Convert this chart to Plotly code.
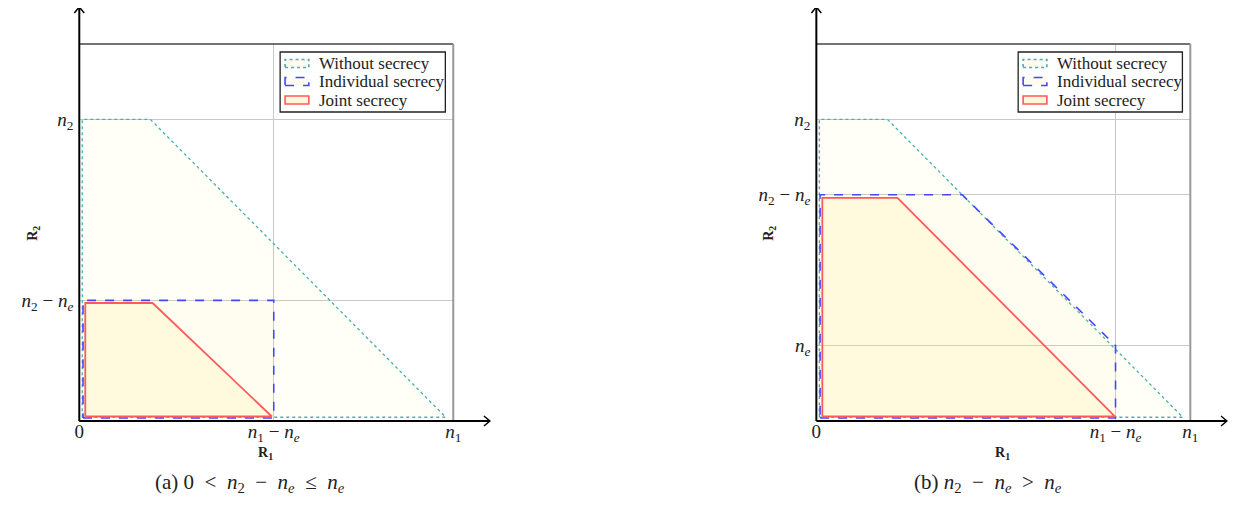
import plotly.graph_objects as go

# page has an 8px body margin, so the figure is 16px smaller than the window
OFF = 8
W, H = 1236 - 2 * OFF, 506 - 2 * OFF

# region corners (n1 = 10, n2 = 8, scale shared by both axes)
# (a) ne = 4.8
without_a_x = [0.08, 9.8, 1.9, 0.08, 0.08]
without_a_y = [0.1, 0.1, 8.0, 8.0, 0.1]
indiv_a_x = [0.1, 5.2, 5.2, 0.1, 0.1]
indiv_a_y = [0.08, 0.08, 3.2, 3.2, 0.08]
joint_a_x = [0.16, 5.15, 1.96, 0.16, 0.16]
joint_a_y = [0.12, 0.12, 3.13, 3.13, 0.12]

# (b) ne = 2
without_b_x = [0.08, 9.8, 1.9, 0.08, 0.08]
without_b_y = [0.1, 0.1, 8.0, 8.0, 0.1]
indiv_b_x = [0.1, 8.0, 8.0, 3.9, 0.1, 0.1]
indiv_b_y = [0.08, 0.08, 2.0, 6.0, 6.0, 0.08]
joint_b_x = [0.16, 7.98, 2.17, 0.16, 0.16]
joint_b_y = [0.12, 0.12, 5.92, 5.92, 0.12]

xtick_a = [0, 5.2, 10]
ytick_a = [3.2, 8]
xtick_b = [0, 8, 10]
ytick_b = [2, 6, 8]

N1 = "<i>n</i><sub>1</sub>"
N2 = "<i>n</i><sub>2</sub>"
NE = "<i>n</i><sub><i>e</i></sub>"
xlab_a = ["0", N1 + " − " + NE, N1]
ylab_a = [N2 + " − " + NE, N2]
xlab_b = ["0", N1 + " − " + NE, N1]
ylab_b = [NE, N2 + " − " + NE, N2]

names = ["Without secrecy", "Individual secrecy", "Joint secrecy"]
line_cols = ["rgb(70,175,175)", "rgb(70,70,255)", "rgb(255,90,90)"]
dashes = ["dot", "dash", "solid"]
fills = ["rgba(255,235,120,0.06)", "rgba(255,235,120,0.06)", "rgba(255,235,120,0.15)"]
widths = [1.3, 1.6, 1.8]

FONT = "Liberation Serif"
SP = "\u2002"


def px(x):
    return (x - OFF) / W


def py(y):
    return (H - (y - OFF)) / H


fig = go.Figure()

panels = [
    ("x", "y", [(without_a_x, without_a_y), (indiv_a_x, indiv_a_y), (joint_a_x, joint_a_y)]),
    ("x2", "y2", [(without_b_x, without_b_y), (indiv_b_x, indiv_b_y), (joint_b_x, joint_b_y)]),
]
for xa, ya, regions in panels:
    for i, (xs, ys) in enumerate(regions):
        fig.add_trace(go.Scatter(
            x=xs, y=ys, xaxis=xa, yaxis=ya, name=names[i], showlegend=False,
            mode="lines", fill="toself", fillcolor=fills[i],
            line=dict(color=line_cols[i], dash=dashes[i], width=widths[i]),
            hoverinfo="skip"))

# plot boxes in window pixels: left, right, top, bottom
box_a = (75, 453, 44, 421)
box_b = (820, 1198, 44, 421)

axis_common = dict(range=[0, 10], showline=False, zeroline=False, showgrid=True,
                   gridcolor="#c8c8c8", gridwidth=1, ticks="", tickmode="array",
                   tickfont=dict(family=FONT, size=19, color="#222"), fixedrange=True)

fig.update_layout(
    width=W, height=H, margin=dict(l=0, r=0, t=0, b=0),
    paper_bgcolor="white", plot_bgcolor="white", showlegend=False,
    xaxis=dict(domain=[px(box_a[0]), px(box_a[1])], anchor="y", ticklabelstandoff=-3,
               tickvals=xtick_a, ticktext=xlab_a, **axis_common),
    yaxis=dict(domain=[py(box_a[3]), py(box_a[2])], anchor="x", ticklabelstandoff=5,
               tickvals=ytick_a, ticktext=ylab_a, **axis_common),
    xaxis2=dict(domain=[px(box_b[0]), px(box_b[1])], anchor="y2", ticklabelstandoff=-3,
                tickvals=xtick_b, ticktext=xlab_b, **axis_common),
    yaxis2=dict(domain=[py(box_b[3]), py(box_b[2])], anchor="x2", ticklabelstandoff=5,
                tickvals=ytick_b, ticktext=ylab_b, **axis_common),
)

shapes = []
annots = []
for (l, r, t, b) in [box_a, box_b]:
    # top and right of the frame
    shapes.append(dict(type="line", xref="paper", yref="paper",
                       x0=px(l), x1=px(r), y0=py(t), y1=py(t),
                       line=dict(color="#444", width=1.3)))
    shapes.append(dict(type="line", xref="paper", yref="paper",
                       x0=px(r), x1=px(r), y0=py(t), y1=py(b),
                       line=dict(color="#999", width=2)))
    # arrowed axes
    xend = r + 37
    shapes.append(dict(type="line", xref="paper", yref="paper",
                       x0=px(l), x1=px(xend), y0=py(b), y1=py(b),
                       line=dict(color="black", width=2)))
    shapes.append(dict(type="line", xref="paper", yref="paper",
                       x0=px(l), x1=px(l), y0=py(b), y1=py(7),
                       line=dict(color="black", width=2)))
    shapes.append(dict(type="path", xref="paper", yref="paper",
                       path=f"M {px(xend-6)},{py(b-5)} L {px(xend)},{py(b)} L {px(xend-6)},{py(b+5)}",
                       line=dict(color="black", width=1.5)))
    shapes.append(dict(type="path", xref="paper", yref="paper",
                       path=f"M {px(l-5)},{py(13)} L {px(l)},{py(7)} L {px(l+5)},{py(13)}",
                       line=dict(color="black", width=1.5)))

# legend boxes drawn by hand so the swatches look like the outlined patches
for lx0, lx1 in [(278, 445), (1024, 1190)]:
    shapes.append(dict(type="rect", xref="paper", yref="paper",
                       x0=px(lx0), x1=px(lx1), y0=py(52), y1=py(112),
                       fillcolor="white", line=dict(color="#222", width=1.3), layer="above"))
    for i, cy in enumerate([63.5, 81.5, 100]):
        shapes.append(dict(type="rect", xref="paper", yref="paper",
                           x0=px(lx0 + 5), x1=px(lx0 + 29), y0=py(cy + 4), y1=py(cy - 4),
                           fillcolor="rgba(255,240,190,0.6)" if i == 2 else "rgba(255,245,215,0.4)",
                           line=dict(color=line_cols[i], dash=dashes[i], width=1.6),
                           layer="above"))
        annots.append(dict(xref="paper", yref="paper", x=px(lx0 + 37), y=py(cy),
                           xanchor="left", yanchor="middle", showarrow=False, text=names[i],
                           font=dict(family=FONT, size=17, color="#222")))

fig.update_layout(shapes=shapes)

for cx, ry_x, cap_x, cap in [
    (263, 29, 248, "(a) 0" + SP + "&lt;" + SP + N2 + SP + "−" + SP + NE + SP + "≤" + SP + NE),
    (1008, 773, 994, "(b) " + N2 + SP + "−" + SP + NE + SP + "&gt;" + SP + NE),
]:
    annots.append(dict(xref="paper", yref="paper", x=px(cx), y=py(453), showarrow=False,
                       xanchor="center", yanchor="middle",
                       text="<b>R<sub>1</sub></b>", font=dict(family=FONT, size=14, color="#222")))
    annots.append(dict(xref="paper", yref="paper", x=px(ry_x), y=py(233), showarrow=False,
                       xanchor="center", yanchor="middle",
                       textangle=-90, text="<b>R<sub>2</sub></b>",
                       font=dict(family=FONT, size=14, color="#222")))
    annots.append(dict(xref="paper", yref="paper", x=px(cap_x), y=py(483), showarrow=False,
                       xanchor="center", yanchor="middle",
                       text=cap, font=dict(family=FONT, size=21, color="#222")))
fig.update_layout(annotations=annots)

fig.write_html("out.html")
